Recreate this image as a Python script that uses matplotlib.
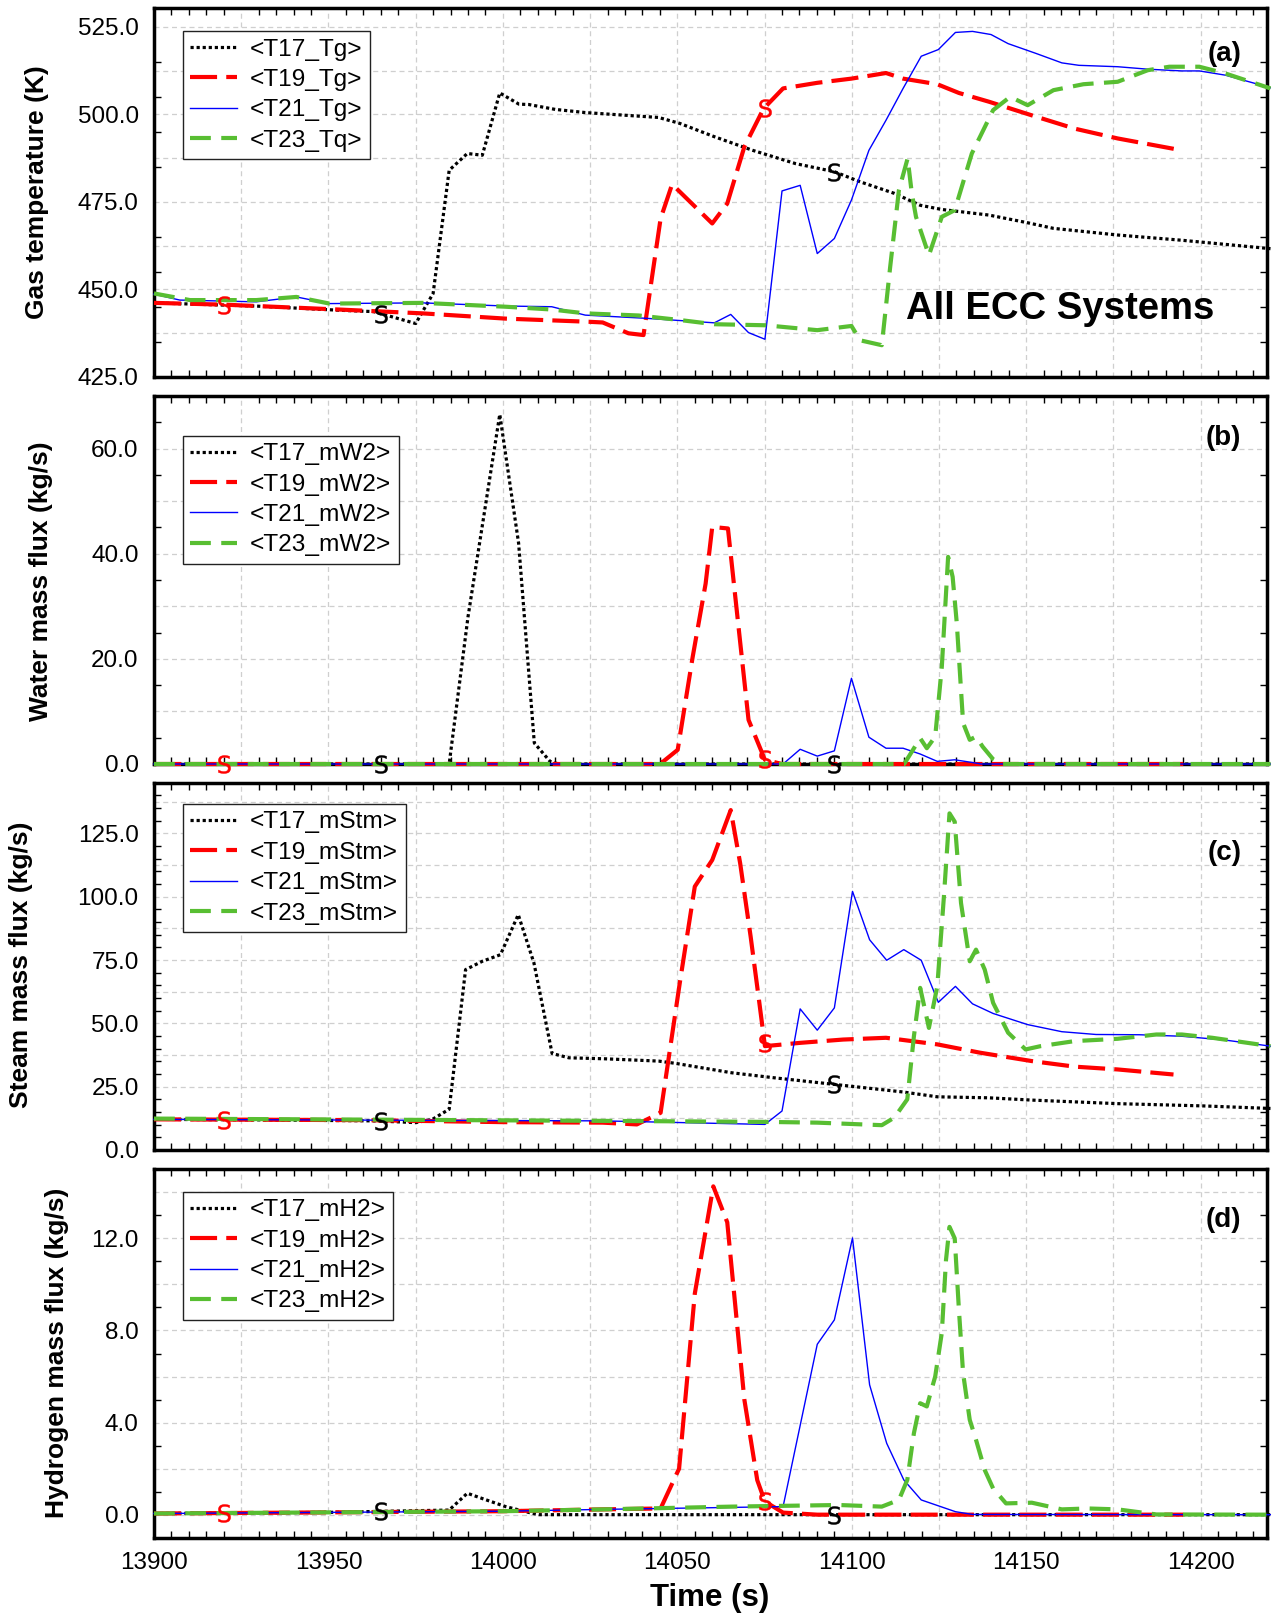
# -*- coding: utf-8 -*-
import numpy as np
import matplotlib
matplotlib.use("Agg")
import matplotlib.pyplot as plt
from matplotlib.ticker import MultipleLocator, FixedLocator, FuncFormatter

plt.rcParams['font.family'] = ['Liberation Sans', 'DejaVu Sans']

# ---- (a) gas temperature (K) ----
t17_tg = [13900, 13919, 13929, 13953, 13963, 13975, 13980, 13984.6, 13989.8, 13994.1, 13999.1,
          14004.6, 14007.4, 14015, 14023.6, 14037, 14044.6, 14050.7, 14060.6, 14071.6, 14083.9,
          14095, 14102.4, 14112.2, 14119.6, 14125.8, 14139.3, 14150.4, 14157.8, 14176.2, 14194.6, 14220]
v17_tg = [446.1, 445.5, 445.2, 444.0, 443.6, 440.2, 448.8, 484.0, 488.8, 488.3, 506.1,
          502.9, 502.8, 501.4, 500.5, 499.6, 499.1, 497.4, 493.6, 489.7, 485.9,
          483.6, 480.7, 477.4, 474.0, 472.8, 471.2, 469.0, 467.4, 465.5, 464.0, 461.6]
t19_tg = [13900, 13920, 13953, 13977, 14000.8, 14024.6, 14028.6, 14036, 14040.3, 14045.2, 14048.5,
          14060, 14064.3, 14069.2, 14074.7, 14080.3, 14090.1, 14099.9, 14109.8, 14114.7, 14124.5,
          14130.7, 14139.3, 14151.6, 14163.9, 14176.2, 14194.6]
v19_tg = [446.1, 445.6, 444.2, 443.1, 441.6, 440.7, 440.5, 437.4, 436.9, 470.2, 480.0,
          468.8, 474.5, 490.7, 501.6, 507.4, 509.0, 510.2, 511.8, 510.2, 508.6,
          506.1, 503.6, 499.7, 495.9, 493.1, 489.7]
t21_tg = [13900, 13907.4, 13929.3, 13940.8, 13950.3, 13977, 14000.8, 14014, 14023.6, 14040.9,
          14060.6, 14065.3, 14070.4, 14075.1, 14080, 14085.2, 14090.1, 14095, 14099.9, 14104.9,
          14109.8, 14114.7, 14119.9, 14124.8, 14129.7, 14134.6, 14139.9, 14144.8, 14152.8, 14160.2,
          14165.1, 14176.2, 14184.8, 14194.6, 14199.6, 14207, 14220]
v21_tg = [448.6, 446.9, 446.4, 447.8, 445.9, 446.1, 445.2, 445.0, 442.6, 441.7,
          440.4, 442.8, 437.6, 435.7, 478.1, 479.7, 460.2, 464.5, 475.5, 489.7,
          498.3, 507.4, 516.6, 518.5, 523.4, 523.7, 522.8, 520.2, 517.4, 514.7,
          514.0, 513.6, 512.9, 512.4, 512.4, 511.2, 507.6]
t23_tq = [13900, 13910.3, 13929.3, 13940.8, 13950.3, 13977, 14000.8, 14014.1, 14023.6, 14038.9,
          14050.7, 14060.6, 14075.3, 14090.1, 14099.9, 14102.4, 14108.6, 14111, 14113.5, 14116,
          14117.2, 14118.4, 14122.1, 14125.8, 14129.5, 14134.4, 14140.5, 14145.4, 14150.4, 14157.8,
          14166.4, 14176.2, 14184.8, 14191, 14199.6, 14207, 14220]
v23_tq = [448.8, 446.9, 446.9, 447.8, 445.9, 446.1, 445.0, 444.2, 443.1, 442.5,
          441.2, 440.0, 439.7, 438.3, 439.5, 435.4, 434.0, 456.4, 478.3, 487.4,
          477.4, 470.7, 459.7, 470.7, 472.6, 488.8, 501.2, 505.0, 502.6, 506.9,
          508.6, 509.3, 512.6, 513.6, 513.6, 511.7, 507.4]

# ---- (b) water mass flux (kg/s) ----
t17_mw2 = [13900, 13984.6, 13990, 13999.1, 14004.5, 14009, 14013.5, 14016, 14220]
v17_mw2 = [0, 0, 28, 66.5, 42, 4, 0.5, 0, 0]
t19_mw2 = [13900, 14044, 14046, 14050.1, 14054.4, 14058.1, 14060, 14064.5, 14070.4, 14075.1, 14080, 14195]
v19_mw2 = [0, 0, 0.5, 2.7, 20.4, 34.3, 45.1, 44.8, 8.4, 0.8, 0, 0]
t21_mw2 = [13900, 14080.3, 14085.2, 14090.1, 14095, 14099.9, 14104.9, 14109.8, 14114.7, 14119.6,
           14124.5, 14129.5, 14134.4, 14137, 14220]
v21_mw2 = [0, 0, 2.8, 1.5, 2.5, 16.3, 5.1, 3.0, 3.0, 1.9, 0.5, 0.8, 0.3, 0, 0]
t23_mw2 = [13900, 14115, 14119.6, 14121.5, 14123.9, 14125.8, 14127.6, 14128.9, 14130.1, 14131.9,
           14133.8, 14135.6, 14137.5, 14140.5, 14143, 14220]
v23_mw2 = [0, 0, 4.9, 3.0, 5.2, 18.5, 39.4, 35.6, 26.7, 7.8, 4.6, 5.2, 3.3, 0.9, 0, 0]

# ---- (c) steam mass flux (kg/s) ----
t17_mstm = [13900, 13929.3, 13962.7, 13970.3, 13975, 13979.8, 13984.6, 13989.3, 13994.1, 13999.3,
            14004.4, 14008.9, 14014.1, 14018.9, 14029.3, 14044.6, 14049.5, 14065.5, 14077.8, 14095,
            14114.7, 14124.5, 14139.3, 14151.6, 14176.2, 14200.8, 14220]
v17_mstm = [12.1, 11.9, 11.5, 11.1, 10.8, 12.1, 16.1, 71.2, 74.5, 77.1,
            92.9, 73.8, 38.1, 36.4, 36.0, 35.1, 34.2, 30.5, 28.5, 25.9,
            22.9, 21.0, 20.6, 19.7, 18.3, 17.4, 16.4]
t19_mstm = [13900, 13960, 14000, 14028.6, 14038.4, 14045.2, 14050.7, 14055, 14060, 14065.3,
            14068, 14071, 14073.5, 14075.1, 14085.2, 14097.5, 14109.8, 14124.5, 14136.8, 14151.6,
            14163.9, 14176.2, 14192.2]
v19_mstm = [12.1, 11.8, 11.0, 10.8, 10.1, 14.7, 66, 104, 114.5, 134.2,
            113.2, 84.3, 58.1, 41.0, 42.3, 43.6, 44.3, 41.7, 38.4, 35.1,
            32.9, 31.8, 29.8]
t21_mstm = [13900, 13960, 14028.6, 14075.1, 14080, 14085.2, 14090.1, 14095, 14100.2, 14105.1,
            14110, 14114.9, 14119.9, 14124.8, 14129.7, 14134.6, 14140.5, 14150.4, 14160.2, 14170,
            14182.4, 14194.6, 14207, 14220]
v21_mstm = [12.1, 11.8, 11.5, 10.1, 15.4, 55.7, 47.3, 56.1, 102.1, 83.0,
            74.9, 79.1, 74.9, 58.3, 64.6, 57.7, 53.9, 49.5, 46.7, 45.6,
            45.5, 44.9, 43.4, 41.0]
t23_mstm = [13900, 13960, 14028.6, 14075.1, 14090.1, 14108.6, 14112.2, 14115.9, 14117.8, 14119.6,
            14122.1, 14124.5, 14126.4, 14128, 14129.5, 14131.3, 14133.8, 14135.6, 14138.1, 14140.5,
            14144.8, 14149.8, 14154.1, 14163.9, 14176.2, 14187.3, 14194.6, 14203.3, 14220]
v23_mstm = [12.4, 12.0, 11.5, 11.1, 10.8, 9.8, 12.8, 20.0, 44.9, 64.0,
            48.2, 64.6, 100.1, 132.9, 129.6, 97.5, 74.5, 79.1, 71.2, 58.1,
            46.3, 39.7, 41.0, 43.0, 43.9, 45.6, 45.6, 44.3, 41.0]

# ---- (d) hydrogen mass flux (kg/s) ----
t17_mh2 = [13900, 13950, 13984.6, 13989.8, 13994.1, 14000.8, 14008.4, 14010.3, 14220]
v17_mh2 = [0.05, 0.1, 0.2, 0.93, 0.7, 0.35, 0.06, 0.0, 0.0]
t19_mh2 = [13900, 13950, 14000, 14028.6, 14045.2, 14050.5, 14055, 14060.3, 14064.3, 14069.2,
           14072.9, 14075.1, 14080.3, 14090.1, 14195]
v19_mh2 = [0.05, 0.1, 0.15, 0.23, 0.27, 2.0, 9.6, 14.26, 12.7, 5.0, 1.5, 0.57, 0.09, 0.0, 0.0]
t21_mh2 = [13900, 13950, 14000, 14028.6, 14080.3, 14090.1, 14095, 14100.2, 14105.1, 14110,
           14114.9, 14119.9, 14129.7, 14134.6, 14220]
v21_mh2 = [0.05, 0.1, 0.15, 0.23, 0.35, 7.4, 8.46, 12.02, 5.64, 3.1, 1.51, 0.64, 0.13, 0.01, 0.0]
t23_mh2 = [13900, 13950, 14000, 14028.6, 14065.5, 14096.3, 14108.6, 14113.5, 14115.9, 14117.8,
           14119.6, 14121.5, 14123.9, 14125.8, 14127, 14128, 14129.5, 14130.7, 14131.9, 14133.8,
           14135.6, 14138.1, 14140.5, 14144.2, 14151.6, 14160.2, 14167.6, 14176.2, 14187.3, 14220]
v23_mh2 = [0.05, 0.1, 0.15, 0.23, 0.35, 0.42, 0.35, 0.64, 1.51, 3.54,
           4.84, 4.7, 6.0, 7.9, 11.07, 12.5, 12.0, 8.9, 6.14, 4.12,
           3.25, 1.94, 1.14, 0.49, 0.52, 0.23, 0.27, 0.23, 0.01, 0.0]

# "S" marks drawn on the curves
s_red_t = [13920, 14075]
s_black_t = [13965, 14095]

# line styles for T17, T19, T21, T23
styles = [
    dict(color='black', lw=2.3, ls=(0, (1, 0.9))),
    dict(color='#ff0000', lw=3.0, ls=(0, (6.5, 2.2))),
    dict(color='#0000ff', lw=1.0, ls='-'),
    dict(color='#58be32', lw=3.0, ls=(0, (5, 2.5))),
]

panels = [
    dict(series=[(t17_tg, v17_tg, '<T17_Tg>'), (t19_tg, v19_tg, '<T19_Tg>'),
                 (t21_tg, v21_tg, '<T21_Tg>'), (t23_tq, v23_tq, '<T23_Tq>')],
         ylim=(425, 530.3), grid=12.5, lab=25, minor=FixedLocator(np.arange(435, 531, 10)),
         ylabel='Gas temperature (K)', ylx=37, yly=192.5, rect=(8.3, 376.7), leg_top=0.938, tag='(a)', tag_y=0.877),
    dict(series=[(t17_mw2, v17_mw2, '<T17_mW2>'), (t19_mw2, v19_mw2, '<T19_mW2>'),
                 (t21_mw2, v21_mw2, '<T21_mW2>'), (t23_mw2, v23_mw2, '<T23_mW2>')],
         ylim=(0, 70), grid=10, lab=20, minor=MultipleLocator(5),
         ylabel='Water mass flux (kg/s)', ylx=41, yly=581.5, rect=(396, 764), leg_top=0.892, tag='(b)', tag_y=0.885),
    dict(series=[(t17_mstm, v17_mstm, '<T17_mStm>'), (t19_mstm, v19_mstm, '<T19_mStm>'),
                 (t21_mstm, v21_mstm, '<T21_mStm>'), (t23_mstm, v23_mstm, '<T23_mStm>')],
         ylim=(0, 145), grid=12.5, lab=25, minor=MultipleLocator(5),
         ylabel='Steam mass flux (kg/s)', ylx=21, yly=964.4, rect=(782.7, 1150), leg_top=0.942, tag='(c)', tag_y=0.808),
    dict(series=[(t17_mh2, v17_mh2, '<T17_mH2>'), (t19_mh2, v19_mh2, '<T19_mH2>'),
                 (t21_mh2, v21_mh2, '<T21_mH2>'), (t23_mh2, v23_mh2, '<T23_mH2>')],
         ylim=(-1, 15), grid=2, lab=4, minor=MultipleLocator(1),
         ylabel='Hydrogen mass flux (kg/s)', ylx=57, yly=1352.4, rect=(1169.3, 1537.7), leg_top=0.939, tag='(d)', tag_y=0.863),
]

W, H = 1271, 1614
fig = plt.figure(figsize=(W / 100, H / 100), dpi=100)
x0, x1 = 154, 1267


def make_fmt(step):
    def f(v, pos):
        k = v / step
        return f'{v:.1f}' if abs(k - round(k)) < 1e-6 else ''
    return FuncFormatter(f)


def xfmt(v, pos):
    return f'{v:.0f}' if abs(v / 50 - round(v / 50)) < 1e-6 else ''


for i, p in enumerate(panels):
    top, bot = p['rect']
    ax = fig.add_axes([x0 / W, 1 - bot / H, (x1 - x0) / W, (bot - top) / H])

    for (t, v, lab), st in zip(p['series'], styles):
        ax.plot(t, v, label=lab, zorder=3, clip_on=False, **st)

    # S marks
    tr, vr = p['series'][1][0], p['series'][1][1]
    tb, vb = p['series'][0][0], p['series'][0][1]
    ax.plot(s_red_t, np.interp(s_red_t, tr, vr), ls='none', marker='$\\mathsf{S}$',
            ms=13, color='#ff0000', mew=0.3, zorder=4, clip_on=False)
    ax.plot(s_black_t, np.interp(s_black_t, tb, vb), ls='none', marker='$\\mathsf{S}$',
            ms=13, color='black', mew=0.3, zorder=4, clip_on=False)

    ax.set_xlim(13900, 14219)
    ax.set_ylim(*p['ylim'])

    ax.xaxis.set_major_locator(MultipleLocator(25))
    ax.xaxis.set_minor_locator(MultipleLocator(5))
    ax.yaxis.set_major_locator(MultipleLocator(p['grid']))
    ax.yaxis.set_minor_locator(p['minor'])
    ax.yaxis.set_major_formatter(make_fmt(p['lab']))
    if i == 3:
        ax.xaxis.set_major_formatter(FuncFormatter(xfmt))
    else:
        ax.tick_params(axis='x', labelbottom=False)

    ax.grid(True, which='major', color='#cfcfcf', ls=(0, (4, 3)), lw=0.9)
    ax.tick_params(which='major', length=0, labelsize=17.5)
    ax.tick_params(axis='y', which='major', pad=11)
    ax.tick_params(axis='x', which='major', pad=10)
    ax.tick_params(which='minor', direction='in', length=5, width=1,
                   top=True, right=True, bottom=True, left=True)
    for sp in ax.spines.values():
        sp.set_linewidth(2.5)
        sp.set_zorder(2.5)

    ax.legend(loc='upper left', bbox_to_anchor=(0.026, p['leg_top']), borderaxespad=0,
              fontsize=17.6, frameon=True, fancybox=False, framealpha=1, edgecolor='#222222',
              handlelength=1.9, handletextpad=0.55, labelspacing=0.34, borderpad=0.3)
    ax.get_legend().get_frame().set_linewidth(1.0)

    ax.text(0.977, p['tag_y'], p['tag'], transform=ax.transAxes, ha='right', va='center',
            fontsize=20, fontweight='bold')
    fig.text(p['ylx'] / W, 1 - p['yly'] / H, p['ylabel'], rotation=90, ha='center', va='center',
             fontsize=19, fontweight='bold')

    if i == 0:
        ax.text(0.676, 0.184, 'All ECC Systems', transform=ax.transAxes, ha='left', va='center',
                fontsize=27.5, fontweight='bold')

fig.text(710 / W, 1 - 1598 / H, 'Time (s)', ha='center', va='center', fontsize=22.5, fontweight='bold')

fig.savefig('out.png', dpi=100)
